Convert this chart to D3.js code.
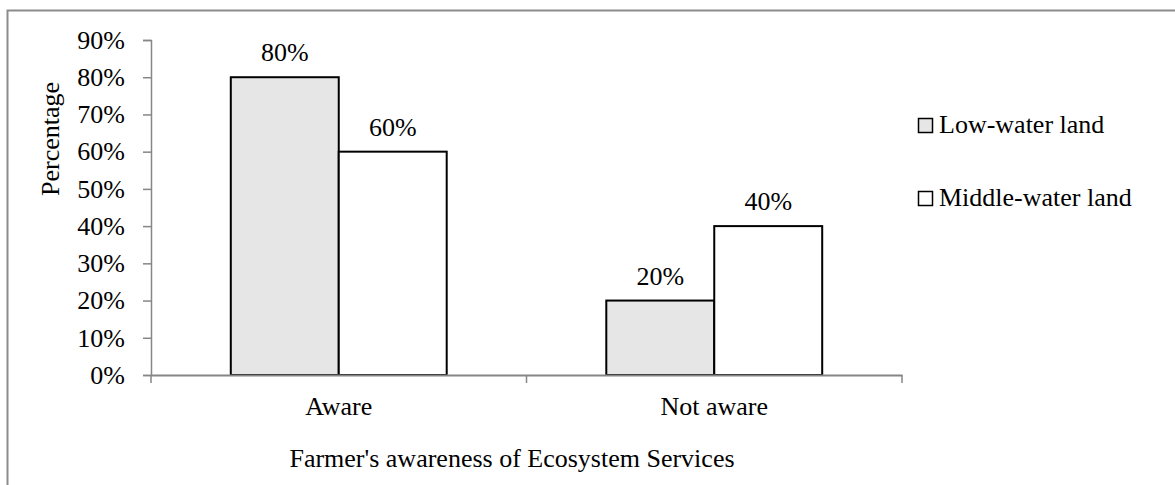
<!DOCTYPE html>
<html>
<head>
<meta charset="utf-8">
<script src="https://cdn.jsdelivr.net/npm/d3@7"></script>
<style>
  html, body { margin: 0; padding: 0; background: #fff; }
  svg { display: block; }
  text { font-family: "Liberation Serif", "Times New Roman", serif; fill: #000; }
</style>
</head>
<body>
<svg id="chart" width="1175" height="485"></svg>
<script>
// Awareness categories and survey shares per land type
const categories = ["Aware", "Not aware"];
const seriesNames = ["Low-water land", "Middle-water land"];
const lowWater = [0.80, 0.20];
const middleWater = [0.60, 0.40];
const yTicks = [0, 0.1, 0.2, 0.3, 0.4, 0.5, 0.6, 0.7, 0.8, 0.9];
const xTitle = "Farmer's awareness of Ecosystem Services";
const yTitle = "Percentage";

const seriesValues = [lowWater, middleWater];
const fills = ["#e6e6e6", "#ffffff"];
const axisColor = "#868686";
const fontSize = 26;

const svg = d3.select("#chart");

// outer chart frame
svg.append("rect")
  .attr("x", 7.5).attr("y", 10.5)
  .attr("width", 1300).attr("height", 600)
  .attr("fill", "none").attr("stroke", "#8c8c8c").attr("stroke-width", 2);

const plot = { left: 151, right: 902, top: 40, bottom: 375 };

const y = d3.scaleLinear().domain([0, 0.9]).range([plot.bottom, plot.top]);
const x = d3.scaleBand().domain(categories).range([plot.left, plot.right]).padding(0);
const groupWidth = x.bandwidth() * 0.575;
const xs = d3.scaleBand().domain(seriesNames)
  .range([(x.bandwidth() - groupWidth) / 2, (x.bandwidth() + groupWidth) / 2]).padding(0);

const pct = d3.format(".0%");

// y axis
const yAxis = d3.axisLeft(y).tickValues(yTicks).tickFormat(pct).tickSize(8).tickPadding(18);
const gy = svg.append("g").attr("transform", `translate(${plot.left},0)`).call(yAxis);
gy.select(".domain").attr("stroke", axisColor).attr("stroke-width", 1.5);
gy.selectAll(".tick line").attr("stroke", axisColor).attr("stroke-width", 1.5);
gy.selectAll(".tick text")
  .style("font-family", '"Liberation Serif", "Times New Roman", serif')
  .style("font-size", fontSize + "px").attr("fill", "#000");

// bars
const groups = svg.append("g").selectAll("g")
  .data(categories)
  .join("g")
  .attr("transform", d => `translate(${x(d)},0)`);

groups.selectAll("rect")
  .data((c, ci) => seriesNames.map((s, si) => ({ s, si, v: seriesValues[si][ci] })))
  .join("rect")
  .attr("x", d => xs(d.s))
  .attr("y", d => y(d.v))
  .attr("width", xs.bandwidth())
  .attr("height", d => y(0) - y(d.v))
  .attr("fill", d => fills[d.si])
  .attr("stroke", "#000")
  .attr("stroke-width", 2);

groups.selectAll("text.val")
  .data((c, ci) => seriesNames.map((s, si) => ({ s, si, v: seriesValues[si][ci] })))
  .join("text")
  .attr("class", "val")
  .attr("x", d => xs(d.s) + xs.bandwidth() / 2)
  .attr("y", d => y(d.v) - 16)
  .attr("text-anchor", "middle")
  .style("font-size", fontSize + "px")
  .text(d => pct(d.v));

// x axis
const xAxis = d3.axisBottom(x).tickSize(0).tickPadding(0).tickFormat("");
const gx = svg.append("g").attr("transform", `translate(0,${plot.bottom})`).call(xAxis);
gx.select(".domain").attr("stroke", axisColor).attr("stroke-width", 2);
gx.selectAll(".tick").remove();
// category boundary ticks
const bounds = [plot.left, ...categories.slice(1).map(c => x(c)), plot.right];
gx.selectAll("line.bound").data(bounds).join("line")
  .attr("class", "bound")
  .attr("x1", d => d).attr("x2", d => d)
  .attr("y1", 0).attr("y2", 8)
  .attr("stroke", axisColor).attr("stroke-width", 1.5);
svg.append("g").selectAll("text")
  .data(categories).join("text")
  .attr("x", d => x(d) + x.bandwidth() / 2)
  .attr("y", 415)
  .attr("text-anchor", "middle")
  .style("font-size", fontSize + "px")
  .text(d => d);

// axis titles
svg.append("text")
  .attr("x", 512).attr("y", 467)
  .attr("text-anchor", "middle")
  .style("font-size", fontSize + "px")
  .text(xTitle);

svg.append("text")
  .attr("transform", "translate(59,139) rotate(-90)")
  .attr("text-anchor", "middle")
  .style("font-size", fontSize + "px")
  .text(yTitle);

// legend
const legend = svg.append("g").selectAll("g")
  .data(seriesNames).join("g")
  .attr("transform", (d, i) => `translate(918,${133 + i * 73})`);
legend.append("rect")
  .attr("x", 0.5).attr("y", -14.5)
  .attr("width", 14).attr("height", 14)
  .attr("fill", (d, i) => fills[i])
  .attr("stroke", "#000").attr("stroke-width", 1.5);
legend.append("text")
  .attr("x", 21).attr("y", 0)
  .style("font-size", fontSize + "px")
  .text(d => d);
</script>
</body>
</html>
